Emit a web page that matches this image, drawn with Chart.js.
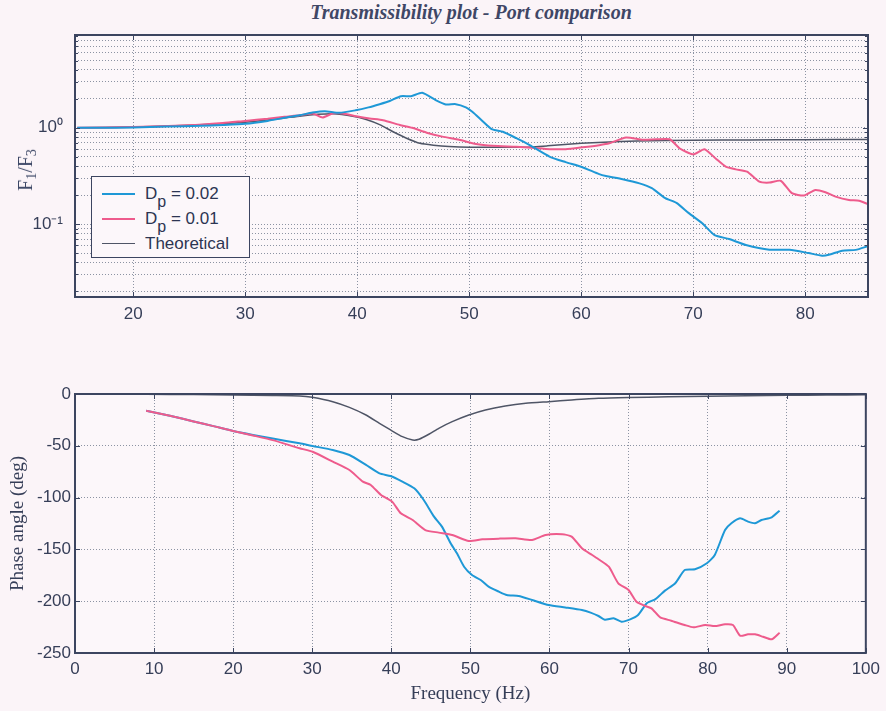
<!DOCTYPE html>
<html>
<head>
<meta charset="utf-8">
<title>Transmissibility plot - Port comparison</title>
<script src="https://cdn.jsdelivr.net/npm/chart.js@4.4.1/dist/chart.umd.min.js"></script>
<style>
  html, body { margin: 0; padding: 0; background: #fbf4f8; }
  #wrap { position: relative; width: 886px; height: 711px; overflow: hidden; background: #fbf4f8; }
  #plotTitle {
    position: absolute; left: 0; top: 1px; width: 942px; text-align: center;
    font-family: "Liberation Serif", "DejaVu Serif", serif; font-style: italic; font-weight: bold;
    font-size: 20px; color: #3f4766;
  }
  canvas { position: absolute; left: 0; }
  #magChart { top: 0; }
  #phaseChart { top: 335px; }
  #magLabel {
    position: absolute; left: 27px; top: 170px; transform: translate(-50%, -50%) rotate(-90deg);
    font-family: "Liberation Serif", "DejaVu Serif", serif; font-size: 20px; color: #3b4665; white-space: nowrap;
  }
  #magLabel sub { font-size: 14px; vertical-align: -4px; }
  #legend {
    position: absolute; left: 91px; top: 176px; width: 157px; height: 80px;
    border: 1.5px solid #3c4560; background: #fcf7fa;
    font-family: "Liberation Sans", Arial, sans-serif; font-size: 17px; color: #2c3552;
  }
  .row { position: absolute; left: 0; height: 20px; }
  .swatch { position: absolute; left: 10px; width: 33px; top: 9px; }
  .txt { position: absolute; left: 53px; top: 0; white-space: nowrap; line-height: 20px; }
  .txt sub { font-size: 16px; vertical-align: -8px; line-height: 0; }
</style>
</head>
<body>
<div id="wrap">
  <div id="plotTitle">Transmissibility plot - Port comparison</div>
  <canvas id="magChart" width="886" height="335"></canvas>
  <canvas id="phaseChart" width="886" height="376"></canvas>
  <div id="magLabel">F<sub>1</sub>/F<sub>3</sub></div>
  <div id="legend">
    <div class="row" style="top:7px"><div class="swatch" style="border-top:2px solid #1e98d6"></div><div class="txt">D<sub>p</sub> = 0.02</div></div>
    <div class="row" style="top:32px"><div class="swatch" style="border-top:2px solid #ee5b8c"></div><div class="txt">D<sub>p</sub> = 0.01</div></div>
    <div class="row" style="top:57px"><div class="swatch" style="border-top:1.5px solid #4f5566"></div><div class="txt">Theoretical</div></div>
  </div>
</div>
<script>
// ---- Magnitude ratio F1/F3 (top panel) ----
const magFreqBlue = [15, 17, 20, 23, 26, 28, 30, 32, 33.5, 34.85, 36, 37.1, 38.4, 39.85, 41, 42, 42.9, 43.9, 44.8, 45.8,
  47, 47.9, 48.8, 49.7, 50.3, 51.1, 52, 53, 54.2, 55.4, 57.2, 58.6, 60.1, 61.6, 62.2, 63.7, 65.2, 66.3, 67.5, 68.5,
  69.6, 70.8, 71.9, 73.2, 74.7, 76.8, 78.6, 80.3, 81.5, 82.1, 83.3, 84.5, 85.6];
const magBlue = [1.0, 1.0, 1.01, 1.03, 1.05, 1.07, 1.10, 1.18, 1.27, 1.35, 1.44, 1.49, 1.43, 1.52, 1.63, 1.76, 1.9, 2.13, 2.13, 2.31,
  1.94, 1.75, 1.76, 1.63, 1.46, 1.2, 0.97, 0.91, 0.78, 0.66, 0.50, 0.44, 0.39, 0.33, 0.316, 0.293, 0.265, 0.236, 0.186, 0.166,
  0.13, 0.102, 0.077, 0.070, 0.0607, 0.0542, 0.0542, 0.050, 0.047, 0.048, 0.053, 0.054, 0.059];

const magFreqRed = [15, 20, 25, 28, 30, 32, 33.5, 34.85, 36, 36.9, 37.8, 38.7, 39.9, 41.1, 42.3, 43.8, 44.9, 46.2, 47.6, 49.1,
  50.6, 52.1, 54.2, 55.6, 57.2, 58.6, 60.1, 61.6, 62.5, 64, 65.5, 66.7, 67.9, 68.8, 70, 71, 72, 72.9, 73.8, 74.8,
  75.9, 76.8, 77.8, 78.8, 79.9, 80.9, 81.8, 82.7, 83.9, 84.8, 85.6];
const magRed = [1.0, 1.02, 1.06, 1.12, 1.18, 1.24, 1.30, 1.35, 1.41, 1.28, 1.41, 1.41, 1.32, 1.25, 1.2, 1.07, 1.0, 0.89, 0.81, 0.75,
  0.68, 0.65, 0.635, 0.62, 0.60, 0.60, 0.627, 0.66, 0.69, 0.795, 0.75, 0.76, 0.76, 0.61, 0.53, 0.60, 0.48, 0.395, 0.37, 0.35,
  0.276, 0.27, 0.282, 0.21, 0.198, 0.226, 0.214, 0.193, 0.178, 0.175, 0.161];

const magFreqTheo = [15, 20, 25, 30, 33, 35, 36.5, 37.8, 39.6, 40.8, 42, 43.2, 44.4, 45.6, 46.8, 48.2, 50, 55, 57, 60, 62, 65, 70, 75, 80, 85.6];
const magTheo = [1.0, 1.02, 1.06, 1.14, 1.24, 1.33, 1.38, 1.40, 1.32, 1.22, 1.08, 0.91, 0.78, 0.69, 0.66, 0.64, 0.63, 0.63, 0.65, 0.69, 0.71, 0.73, 0.742, 0.748, 0.752, 0.757];

const magTicks = [0.02, 0.03, 0.04, 0.05, 0.06, 0.07, 0.08, 0.09, 0.1, 0.2, 0.3, 0.4, 0.5, 0.6, 0.7, 0.8, 0.9, 1, 2, 3, 4, 5, 6, 7, 8, 9];
const magTickLabels = { 1: '10\u2070', 0.1: '10\u207B\u00B9' };
const freqTicksTop = [20, 30, 40, 50, 60, 70, 80];

// ---- Phase angle (bottom panel) ----
const phaseFreqBlue = [9, 12, 15, 17.5, 20, 22.5, 25, 28.4, 30.05, 32.6, 34.7, 36.8, 38.5, 39.9, 41.4, 42.9, 44.1, 45.4, 46.4, 47.5,
  48.3, 49.2, 50.2, 51.3, 52.3, 53.6, 54.6, 56.1, 57.8, 59.9, 62, 64.1, 65.2, 66.2, 67, 68.1, 69.1, 70.2, 71.2, 72.3,
  73.4, 74.6, 75.9, 77.1, 78.4, 79.9, 80.9, 82.2, 83, 84.1, 85.1, 86, 86.8, 88.1, 89.1];
const phaseBlue = [-16.1, -21, -26.5, -31, -35.7, -39.5, -43, -47.6, -50.2, -54, -58.9, -68.5, -76.6, -79.2, -84.6, -91, -102.3, -118.4, -128, -144,
  -153.8, -166.7, -174.7, -179.5, -186, -190.8, -194, -195, -198.8, -203.7, -206, -208.5, -211, -214.3, -218, -216.5, -219.8, -217.5, -213.3, -202,
  -198, -189.8, -182.7, -169.9, -169.2, -163.4, -155.4, -131.3, -124.8, -120, -123.2, -124.8, -121.6, -119, -112.6];

const phaseFreqRed = [9, 12, 15, 17.5, 20, 22.5, 25, 28.4, 30.05, 32.6, 34.7, 36.4, 37.4, 38.7, 40.1, 41.2, 42.7, 44.3, 46, 47.7,
  49.8, 51.5, 53.6, 55.7, 57.8, 59.5, 61.6, 62.8, 64.1, 65.4, 66.2, 67.5, 68.7, 70, 71, 72.1, 72.9, 74, 75.4, 77.1,
  78.2, 79.7, 80.9, 82.2, 83.2, 84.1, 85.1, 86, 87, 88.1, 89.1];
const phaseRed = [-16.1, -21, -26.5, -31, -35.7, -40, -44.5, -52.4, -55.7, -65.3, -73.4, -84.6, -87.8, -97.5, -103.9, -115.2, -121.6, -131.3, -133.8, -136.1,
  -141.9, -140.3, -139.6, -139.3, -140.9, -136.1, -135.4, -137.7, -148.9, -155.4, -159.5, -166.7, -182.7, -189.2, -200.5, -204.6, -206.9, -215.6, -218.8, -223,
  -225.2, -223, -224, -222.3, -223, -233.3, -232, -232, -234.3, -236.8, -230.4];

const phaseFreqTheo = [9, 15, 20, 25, 28.4, 30, 32.6, 34.7, 36.8, 38.5, 39.9, 41.4, 42.7, 43.5, 44.8, 46, 47.7, 49.8, 51.9, 54.4,
  57, 59.9, 62.8, 66.2, 70, 75, 80, 85, 90, 95, 100];
const phaseTheo = [-0.3, -0.6, -0.9, -1.4, -1.9, -3.2, -7.4, -12.9, -20.3, -28.3, -34.7, -41.2, -44.4, -43.7, -38.6, -33.1, -26.7, -20.3, -15.4, -11.6,
  -9.0, -7.4, -5.8, -4.2, -3.4, -2.7, -2.1, -1.7, -1.3, -1.0, -0.8];

const phaseTicks = [-250, -200, -150, -100, -50, 0];
const freqTicksBottom = [0, 10, 20, 30, 40, 50, 60, 70, 80, 90, 100];

const seriesLabels = ['Dp = 0.02', 'Dp = 0.01', 'Theoretical'];

// ---- styling ----
const COL = { blue: '#1e98d6', red: '#ee5b8c', theo: '#4f5566', frame: '#3c4560', grid: '#8c93a3', text: '#363e58', plotBg: '#fcf7fa' };
const tickFont = { family: '"Liberation Sans", Arial, sans-serif', size: 17 };
const serif = '"Liberation Serif", "DejaVu Serif", serif';

const toPts = (xs, ys) => xs.map((x, i) => ({ x, y: ys[i] }));

// Axes box with inward tick marks, drawn like a classic engineering plot
const axesBox = {
  id: 'axesBox',
  beforeDraw(chart) {
    const a = chart.chartArea, ctx = chart.ctx;
    ctx.save();
    ctx.fillStyle = COL.plotBg;
    ctx.fillRect(a.left, a.top, a.right - a.left, a.bottom - a.top);
    ctx.restore();
  },
  afterDatasetsDraw(chart) {
    const a = chart.chartArea, ctx = chart.ctx;
    ctx.save();
    ctx.strokeStyle = COL.frame;
    ctx.lineWidth = 1;
    const xs = chart.scales.x, ys = chart.scales.y;
    const len = 5;
    ctx.beginPath();
    xs.ticks.forEach(t => {
      const px = Math.round(xs.getPixelForValue(t.value)) + 0.5;
      ctx.moveTo(px, a.bottom); ctx.lineTo(px, a.bottom - len);
      ctx.moveTo(px, a.top); ctx.lineTo(px, a.top + len);
    });
    ys.ticks.forEach(t => {
      const py = Math.round(ys.getPixelForValue(t.value)) + 0.5;
      const l = (ys.type === 'logarithmic' && !(t.value in magTickLabels)) ? 3 : len;
      ctx.moveTo(a.left, py); ctx.lineTo(a.left + l, py);
      ctx.moveTo(a.right, py); ctx.lineTo(a.right - l, py);
    });
    ctx.stroke();
    ctx.lineWidth = 2;
    ctx.strokeRect(a.left, a.top, a.right - a.left, a.bottom - a.top);
    ctx.restore();
  }
};

const gridOpts = { color: COL.grid, lineWidth: 1, drawTicks: false };
const borderOpts = { display: false, dash: [1, 2] };

const lineDs = (label, pts, color, width) => ({
  label, data: pts, borderColor: color, backgroundColor: color, borderWidth: width,
  pointRadius: 0, tension: 0.2, fill: false
});

new Chart(document.getElementById('magChart'), {
  type: 'line',
  data: {
    datasets: [
      lineDs(seriesLabels[0], toPts(magFreqBlue, magBlue), COL.blue, 2),
      lineDs(seriesLabels[1], toPts(magFreqRed, magRed), COL.red, 2),
      lineDs(seriesLabels[2], toPts(magFreqTheo, magTheo), COL.theo, 1.5)
    ]
  },
  options: {
    responsive: false, animation: false, devicePixelRatio: 1,
    layout: { padding: { left: 0, right: 18, top: 35, bottom: 0 } },
    plugins: { legend: { display: false }, tooltip: { enabled: false } },
    scales: {
      x: {
        type: 'linear', min: 14.8, max: 85.6,
        afterBuildTicks: s => { s.ticks = freqTicksTop.map(v => ({ value: v })); },
        afterFit: s => { s.height = 38; },
        grid: gridOpts, border: borderOpts,
        ticks: { font: tickFont, color: COL.text, padding: 7, autoSkip: false, maxRotation: 0 }
      },
      y: {
        type: 'logarithmic', min: 0.0175, max: 9.2,
        afterBuildTicks: s => { s.ticks = magTicks.map(v => ({ value: v })); },
        afterFit: s => { s.width = 75; },
        grid: gridOpts, border: borderOpts,
        ticks: { font: tickFont, color: COL.text, padding: 12, autoSkip: false,
          callback: v => magTickLabels[v] || '' }
      }
    }
  },
  plugins: [axesBox]
});

new Chart(document.getElementById('phaseChart'), {
  type: 'line',
  data: {
    datasets: [
      lineDs(seriesLabels[1], toPts(phaseFreqRed, phaseRed), COL.red, 2),
      lineDs(seriesLabels[0], toPts(phaseFreqBlue, phaseBlue), COL.blue, 2),
      lineDs(seriesLabels[2], toPts(phaseFreqTheo, phaseTheo), COL.theo, 1.5)
    ]
  },
  options: {
    responsive: false, animation: false, devicePixelRatio: 1,
    layout: { padding: { left: 0, right: 18, top: 59, bottom: 0 } },
    plugins: { legend: { display: false }, tooltip: { enabled: false } },
    scales: {
      x: {
        type: 'linear', min: 0, max: 100,
        afterBuildTicks: s => { s.ticks = freqTicksBottom.map(v => ({ value: v })); },
        afterFit: s => { s.height = 58; },
        grid: gridOpts, border: borderOpts,
        ticks: { font: tickFont, color: COL.text, padding: 6, autoSkip: false, maxRotation: 0 },
        title: { display: true, text: 'Frequency (Hz)', color: COL.text,
          font: { family: serif, size: 19 }, padding: { top: 0, bottom: 6 } }
      },
      y: {
        type: 'linear', min: -250, max: 0,
        afterBuildTicks: s => { s.ticks = phaseTicks.map(v => ({ value: v })); },
        afterFit: s => { s.width = 75; },
        grid: gridOpts, border: borderOpts,
        ticks: { font: tickFont, color: COL.text, padding: 4, autoSkip: false },
        title: { display: true, text: 'Phase angle (deg)', color: COL.text,
          font: { family: serif, size: 19 }, padding: { top: 7, bottom: 0 } }
      }
    }
  },
  plugins: [axesBox]
});
</script>
</body>
</html>
